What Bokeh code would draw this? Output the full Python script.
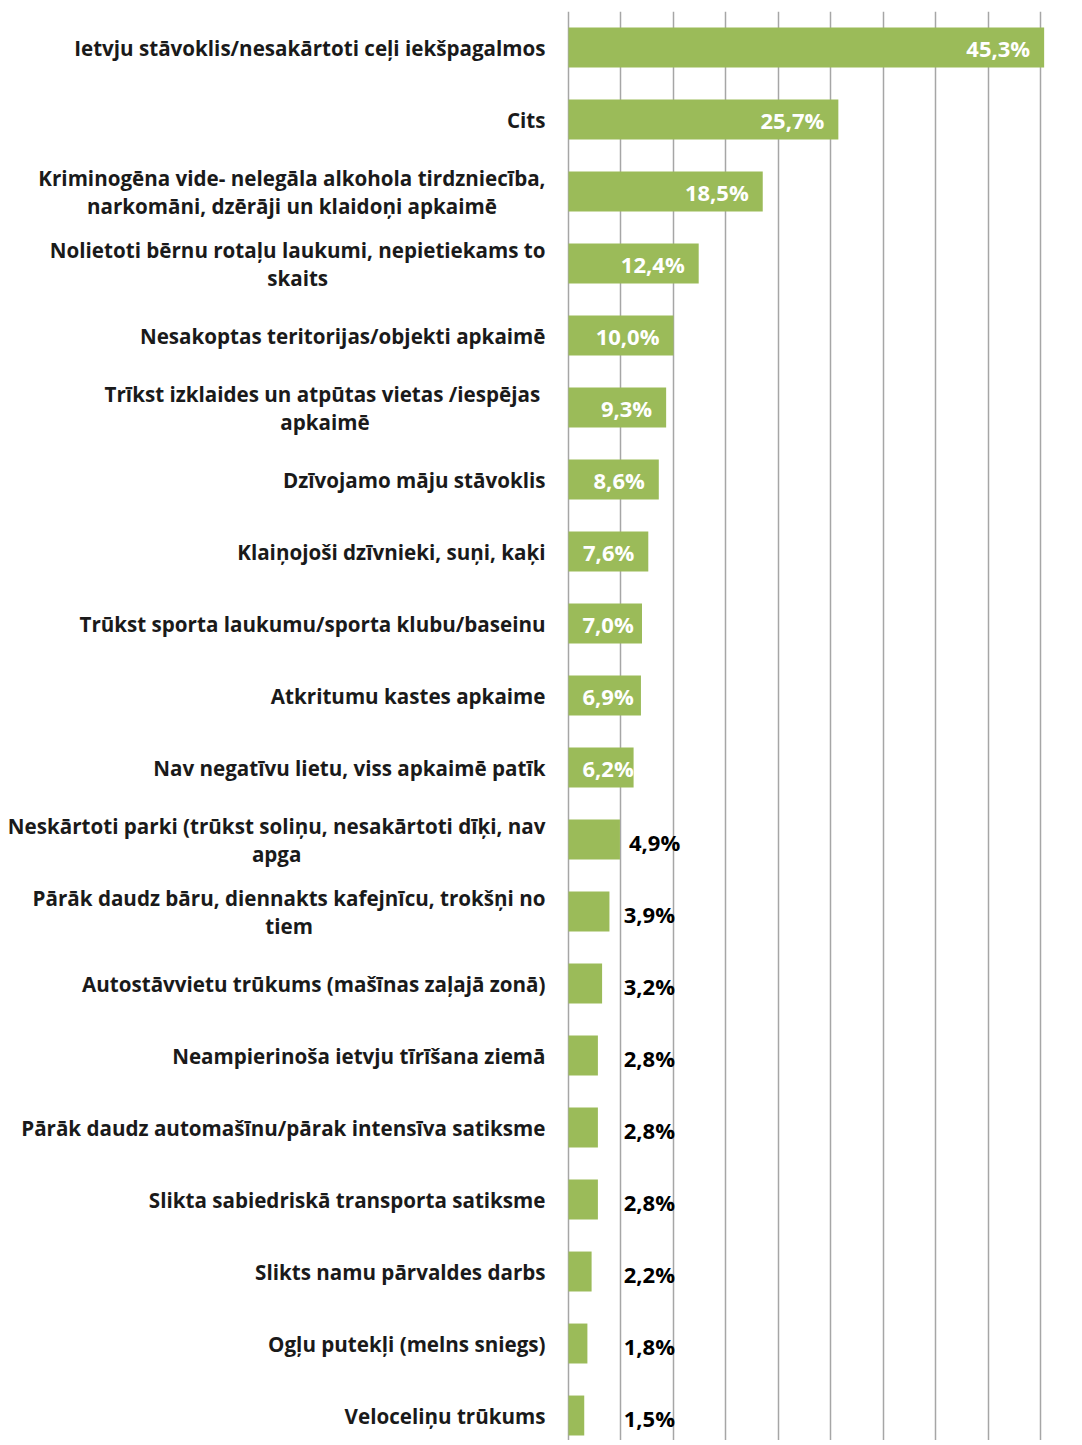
from bokeh.plotting import figure
from bokeh.models import Range1d, ColumnDataSource, Grid, FixedTicker
from bokeh.core.properties import value
from bokeh.embed import file_html
from bokeh.resources import INLINE

categories = [
    "Ietvju stāvoklis/nesakārtoti ceļi iekšpagalmos",
    "Cits",
    "Kriminogēna vide- nelegāla alkohola tirdzniecība,\nnarkomāni, dzērāji un klaidoņi apkaimē",
    "Nolietoti bērnu rotaļu laukumi, nepietiekams to\nskaits",
    "Nesakoptas teritorijas/objekti apkaimē",
    "Trīkst izklaides  un atpūtas vietas /iespējas\napkaimē",
    "Dzīvojamo māju stāvoklis",
    "Klaiņojoši dzīvnieki, suņi, kaķi",
    "Trūkst sporta laukumu/sporta klubu/baseinu",
    "Atkritumu kastes apkaime",
    "Nav negatīvu lietu, viss apkaimē patīk",
    "Neskārtoti parki (trūkst soliņu, nesakārtoti dīķi, nav\napga",
    "Pārāk daudz bāru, diennakts kafejnīcu, trokšņi no\ntiem",
    "Autostāvvietu trūkums (mašīnas zaļajā zonā)",
    "Neampierinoša ietvju tīrīšana ziemā",
    "Pārāk daudz automašīnu/pārak intensīva satiksme",
    "Slikta sabiedriskā transporta satiksme",
    "Slikts namu pārvaldes darbs",
    "Ogļu putekļi (melns sniegs)",
    "Veloceliņu trūkums",
]
values = [45.3, 25.7, 18.5, 12.4, 10.0, 9.3, 8.6, 7.6, 7.0, 6.9,
          6.2, 4.9, 3.9, 3.2, 2.8, 2.8, 2.8, 2.2, 1.8, 1.5]
grid_ticks = [0, 5, 10, 15, 20, 25, 30, 35, 40, 45]

FONT = "Open Sans"
GREEN = "#9BBB59"

idx = list(range(len(categories)))
labels = [f"{v:.1f}".replace(".", ",") + "%" for v in values]

p = figure(width=1070, height=1440, output_backend="svg", toolbar_location=None,
           x_range=Range1d(-54.095, 47.81), y_range=Range1d(19.347, -0.5),
           x_axis_location=None, y_axis_location=None,
           min_border_left=0, min_border_right=0, min_border_top=11, min_border_bottom=0)
p.outline_line_color = None
for g in p.grid:
    g.visible = False
p.add_layout(Grid(dimension=0, ticker=FixedTicker(ticks=grid_ticks),
                  grid_line_color="#A6A6A6", grid_line_width=1.5))

src = ColumnDataSource(dict(y=idx, v=values, cat=categories, lab=labels))
p.hbar(y="y", left=0, right="v", height=0.555, source=src,
       fill_color=GREEN, line_color=None)

# category labels
p.text(x=0, y="y", text="cat", source=src, x_offset=-23,
       text_align="center", anchor="center_right", text_baseline="middle",
       text_font=value(FONT), text_font_style="bold", text_font_size="20.6px",
       text_color="#1A1A1A", text_line_height=1.0)

# value labels
in_r = [i for i, v in enumerate(values) if v >= 7.5]
in_l = [i for i, v in enumerate(values) if 6 <= v < 7.5]
out = [i for i, v in enumerate(values) if v < 6]

def sub(ids, xs):
    return ColumnDataSource(dict(x=xs, y=ids, t=[labels[i] for i in ids]))

common = dict(text_font=value(FONT), text_font_style="bold", text_font_size="22px",
              text_baseline="middle")
p.text(x="x", y="y", text="t", source=sub(in_r, [values[i] for i in in_r]),
       x_offset=-14, text_align="right", text_color="white", **common)
p.text(x="x", y="y", text="t", source=sub(in_l, [0 for i in in_l]),
       x_offset=14, text_align="left", text_color="white", **common)
p.text(x="x", y="y", text="t", source=sub(out, [max(values[i], 4.4) for i in out]),
       x_offset=9, y_offset=2, text_align="left", text_color="#000000", **common)

open("out.html", "w").write(file_html(p, INLINE))
